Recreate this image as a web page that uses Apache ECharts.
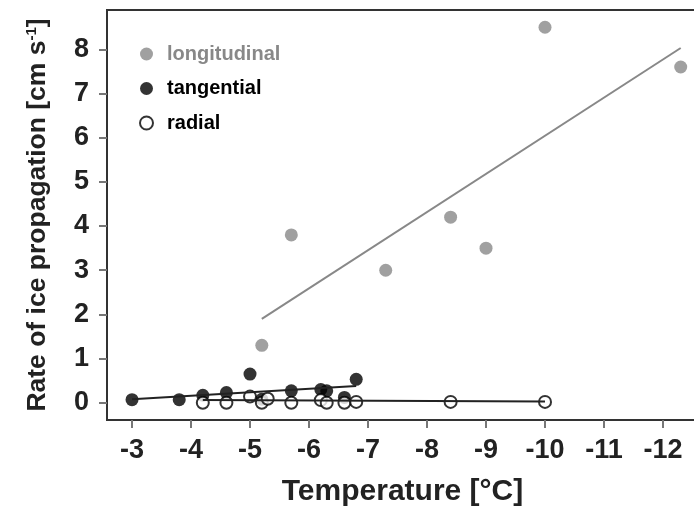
<!DOCTYPE html>
<html>
<head>
<meta charset="utf-8">
<script src="https://cdn.jsdelivr.net/npm/echarts@6/dist/echarts.min.js"></script>
<style>
  html, body { margin: 0; padding: 0; background: #fff; }
  #chart { width: 694px; height: 506px; }
</style>
</head>
<body>
<div id="chart"></div>
<script>
// values
const xTicks = [-3, -4, -5, -6, -7, -8, -9, -10, -11, -12]
const yTicks = [0, 1, 2, 3, 4, 5, 6, 7, 8]

const longTemp = [-5.2, -5.7, -7.3, -8.4, -9.0, -10.0, -12.3]
const longRate = [1.3, 3.8, 3.0, 4.2, 3.5, 8.5, 7.6]

const tangTemp = [-3.0, -3.8, -4.2, -4.6, -5.0, -5.2, -5.7, -6.2, -6.3, -6.6, -6.8]
const tangRate = [0.07, 0.07, 0.17, 0.23, 0.65, 0.08, 0.27, 0.3, 0.27, 0.12, 0.53]

const radTemp = [-4.2, -4.6, -5.0, -5.2, -5.3, -5.7, -6.2, -6.3, -6.6, -6.8, -8.4, -10.0]
const radRate = [0.0, 0.0, 0.14, 0.0, 0.09, 0.0, 0.06, 0.0, 0.0, 0.02, 0.02, 0.02]

// fitted lines (end points)
const longFit = [[-5.2, 1.9], [-12.3, 8.03]]
const tangFit = [[-3.0, 0.08], [-6.8, 0.38]]
const radFit = [[-4.2, 0.06], [-10.0, 0.03]]

const GREY = '#888'
const FONT = 'Liberation Sans'

const zip = (xs, ys) => xs.map((x, i) => [x, ys[i]])

const chart = echarts.init(document.getElementById('chart'))

const option = {
  animation: false,
  textStyle: { fontFamily: FONT },
  grid: {
    left: 107, top: 10, width: 591, height: 410,
    outerBoundsMode: 'none',
    show: true, borderColor: '#333', borderWidth: 2, containLabel: false
  },
  legend: {
    orient: 'vertical',
    left: 134, top: 39,
    itemWidth: 13, itemHeight: 13, itemGap: 14.5,
    selectedMode: false,
    textStyle: { fontFamily: FONT, fontWeight: 'bold', fontSize: 20, padding: [0, 0, 0, 9] },
    data: [
      { name: 'longitudinal', icon: 'circle', textStyle: { color: GREY } },
      { name: 'tangential', icon: 'circle', textStyle: { color: '#000' } },
      { name: 'radial', icon: 'circle', textStyle: { color: '#000' },
        itemStyle: { color: '#fff', borderColor: '#000', borderWidth: 2 } }
    ]
  },
  xAxis: {
    type: 'value',
    inverse: true,
    min: -12.593, max: -2.576,
    name: 'Temperature [°C]',
    nameLocation: 'middle',
    nameGap: 57,
    nameTextStyle: { fontFamily: FONT, fontWeight: 'bold', fontSize: 30, color: '#222' },
    axisLine: { show: true, onZero: false, lineStyle: { color: '#333', width: 2 } },
    axisTick: { show: true, length: 8, customValues: xTicks, lineStyle: { color: '#777', width: 2 } },
    axisLabel: { customValues: xTicks, margin: 17, fontFamily: FONT, fontWeight: 'bold', fontSize: 27, color: '#222' },
    splitLine: { show: false }
  },
  yAxis: {
    type: 'value',
    min: -0.39, max: 8.89,
    name: 'Rate of ice propagation [cm s{sup|-1}]',
    nameLocation: 'middle',
    nameRotate: 90,
    nameGap: 55,
    nameTextStyle: {
      fontFamily: FONT, fontWeight: 'bold', fontSize: 26.5, color: '#222',
      rich: { sup: { fontFamily: FONT, fontWeight: 'bold', fontSize: 15, color: '#222', verticalAlign: 'top', padding: [0, 0, 13, 0] } }
    },
    axisLine: { show: true, onZero: false, lineStyle: { color: '#333', width: 2 } },
    axisTick: { show: true, length: 8, customValues: yTicks, lineStyle: { color: '#777', width: 2 } },
    axisLabel: { customValues: yTicks, margin: 18, fontFamily: FONT, fontWeight: 'bold', fontSize: 27, color: '#222' },
    splitLine: { show: false }
  },
  series: [
    {
      name: 'longitudinal', type: 'scatter', symbolSize: 13,
      itemStyle: { color: GREY }, data: zip(longTemp, longRate), z: 3
    },
    {
      name: 'tangential', type: 'scatter', symbolSize: 13,
      itemStyle: { color: '#000' }, data: zip(tangTemp, tangRate), z: 3
    },
    {
      name: 'radial', type: 'scatter', symbolSize: 12,
      itemStyle: { color: '#fff', borderColor: '#000', borderWidth: 2 }, data: zip(radTemp, radRate), z: 4
    },
    {
      type: 'line', data: longFit, symbol: 'none', silent: true,
      lineStyle: { color: GREY, width: 2 }, z: 2
    },
    {
      type: 'line', data: tangFit, symbol: 'none', silent: true,
      lineStyle: { color: '#222', width: 2 }, z: 5
    },
    {
      type: 'line', data: radFit, symbol: 'none', silent: true,
      lineStyle: { color: '#222', width: 2 }, z: 5
    }
  ]
}

chart.setOption(option)
</script>
</body>
</html>
